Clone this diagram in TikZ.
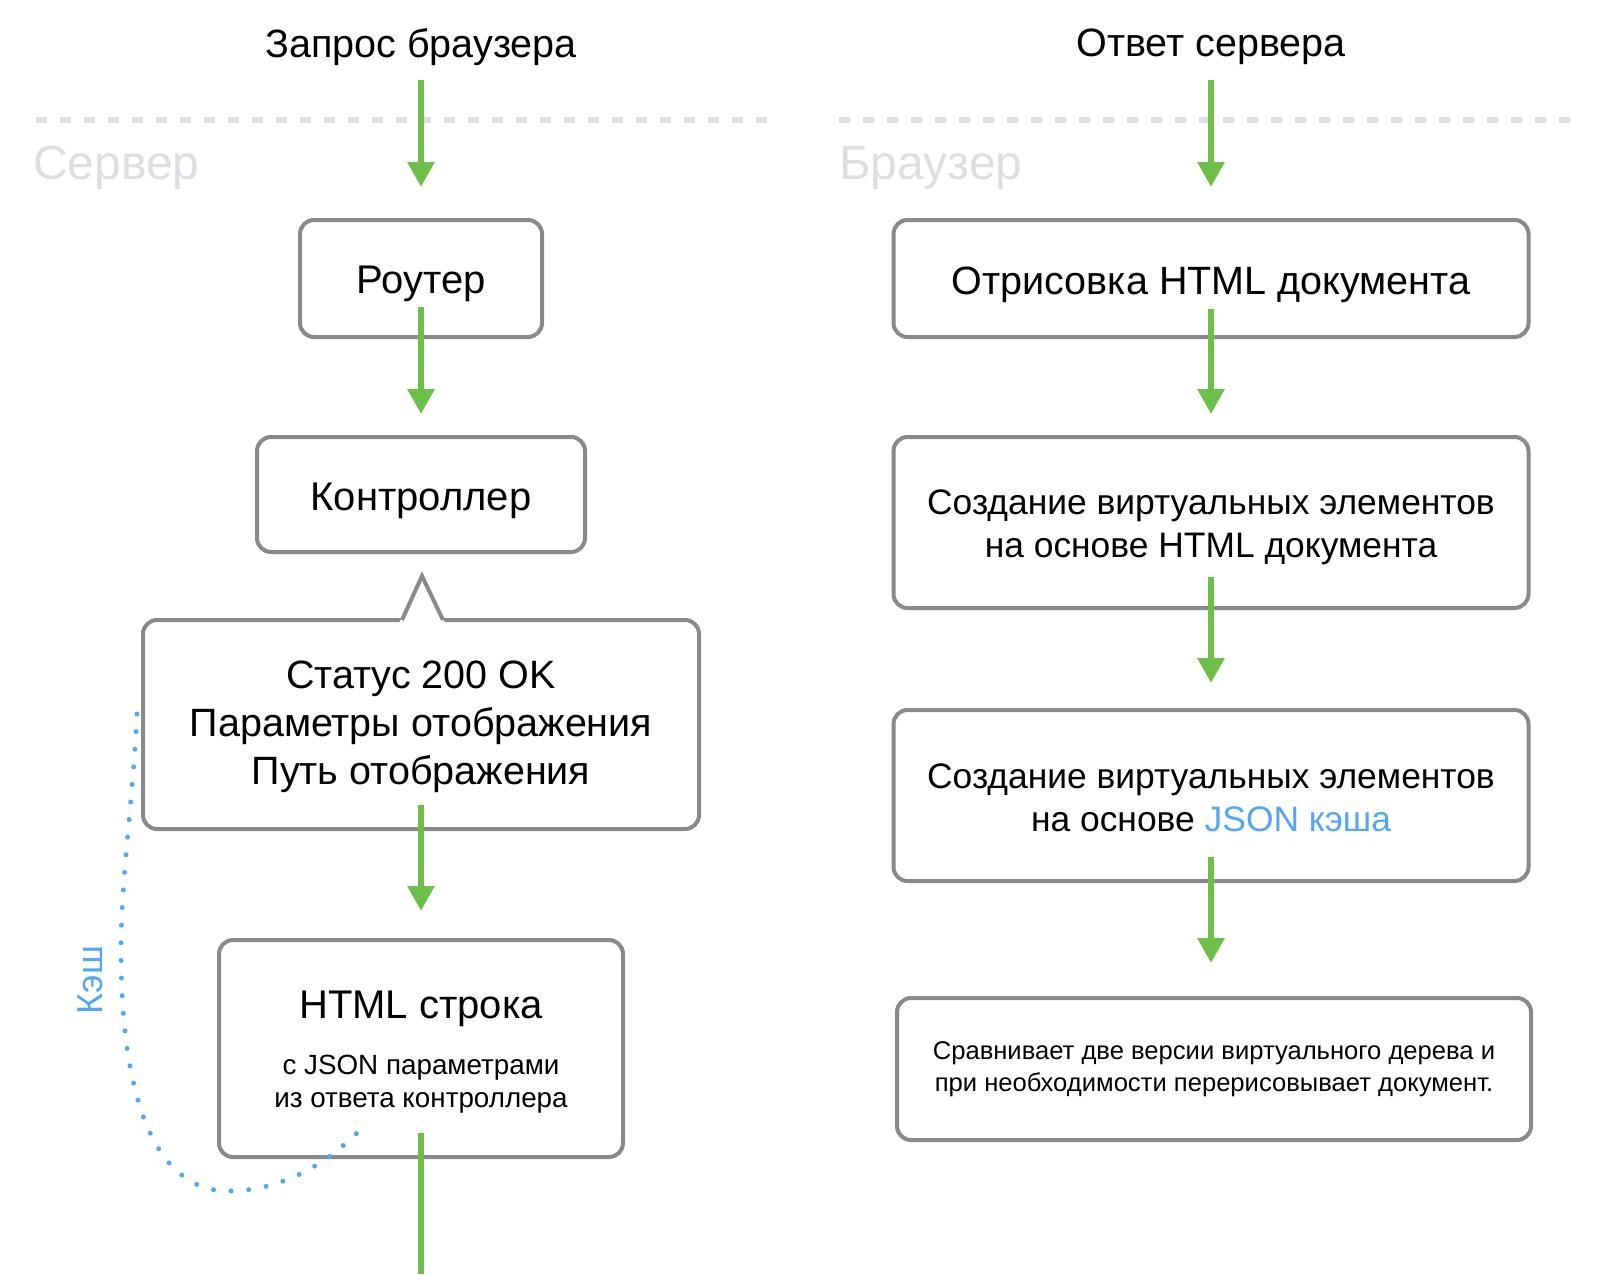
\documentclass[tikz,border=0pt]{standalone}
\usepackage{fontspec}
\setmainfont{Liberation Sans}
\usetikzlibrary{arrows.meta,calc}
\definecolor{boxgray}{RGB}{136,137,141}
\definecolor{flowgreen}{RGB}{108,192,72}
\definecolor{cacheblue}{RGB}{82,166,245}
\definecolor{zonegray}{RGB}{222,222,226}
\begin{document}
\begin{tikzpicture}[x=1pt,y=-1pt,
  box/.style={draw=boxgray, line width=4pt, rounded corners=14pt, fill=white, inner sep=0pt, outer sep=0pt},
  boxtext/.style={inner sep=0pt, align=center, text=black},
  flow/.style={draw=flowgreen, line width=6pt, -{Triangle[width=26pt,length=25pt]}},
  flowline/.style={draw=flowgreen, line width=6pt},
  zone/.style={draw=zonegray, line width=6pt, dash pattern=on 11pt off 13pt},
  zonelabel/.style={text=zonegray, font=\fontsize{48}{56}\selectfont, anchor=west, inner sep=0pt},
  title/.style={font=\fontsize{39.5}{46}\selectfont, inner sep=0pt},
  big/.style={boxtext, font=\fontsize{40}{48}\selectfont},
  callfont/.style={boxtext, font=\fontsize{39.5}{48}\selectfont},
  bigtwo/.style={boxtext, font=\fontsize{35.4}{43}\selectfont},
  small/.style={boxtext, font=\fontsize{27.8}{33}\selectfont},
  tiny/.style={boxtext, font=\fontsize{25.6}{32}\selectfont}
]
\useasboundingbox (0,0) rectangle (1613,1274);

% titles and zones
\node[title] (reqtitle) at (421,47) {Запрос браузера};
\node[title] (resptitle) at (1211,47) {Ответ сервера};
\draw[zone] (36,120) -- (767,120);
\draw[zone] (839,120) -- (1572,120);
\node[zonelabel] (server) at (33,168) {Сервер};
\node[zonelabel] (browser) at (839,168) {Браузер};

% left column
\node[box, minimum width=242pt, minimum height=117pt] (router) at (421,278.5) {};
\node[big] (routertext) at ([yshift=-5pt]router.center) {Роутер};
\node[box, minimum width=328pt, minimum height=115pt] (ctrl) at (421,494.5) {};
\node[big] (ctrltext) at ([yshift=-6pt]ctrl.center) {Контроллер};
\node[box, minimum width=556pt, minimum height=209pt] (callout) at (421,724.5) {};
\coordinate (apex) at ($(callout.north)+(1,-44)$);
\fill[white] ($(callout.north)+(-22,3)$) -- (apex) -- ($(callout.north)+(24,3)$) -- cycle;
\draw[boxgray, line width=4pt, line join=miter] ($(callout.north)+(-19,0)$) -- (apex) -- ($(callout.north)+(22,0)$);
\node[callfont] (callouttext) at ([yshift=-2pt]callout.center) {Статус 200 OK\\Параметры отображения\\Путь отображения};
\node[box, minimum width=404pt, minimum height=217pt] (html) at (421,1048.5) {};
\node[big] (htmltitle) at (421,1009) {HTML строка};
\node[small] (htmlsub) at (421,1084.5) {с JSON параметрами\\из ответа контроллера};

% right column
\node[box, minimum width=635pt, minimum height=117pt] (render) at (1211,278.5) {};
\node[callfont] (rendertext) at ([yshift=-6pt]render.center) {Отрисовка HTML документа};
\node[box, minimum width=635pt, minimum height=171pt] (vdomhtml) at (1211,522.5) {};
\node[bigtwo] (vdomhtmltext) at ([yshift=-5pt]vdomhtml.center) {Создание виртуальных элементов\\на основе HTML документа};
\node[box, minimum width=635pt, minimum height=171pt] (vdomjson) at (1211,795.5) {};
\node[bigtwo] (vdomjsontext) at ([yshift=-2pt]vdomjson.center) {Создание виртуальных элементов\\на основе \textcolor{cacheblue}{JSON кэша}};
\node[box, minimum width=634pt, minimum height=142pt] (diff) at (1214,1069) {};
\node[tiny] (difftext) at (diff.center) {Сравнивает две версии виртуального дерева и\\при необходимости перерисовывает документ.};

% flow arrows left
\coordinate (reqin) at (421,80);
\draw[flow] (reqin) -- ([yshift=33pt]router.north);
\draw[flow] ([yshift=30pt]router.south) -- ([yshift=23pt]ctrl.north);
\draw[flow] ([yshift=24pt]callout.south) -- ([yshift=29pt]html.north);
\coordinate (exitL) at (421,1274);
\draw[flowline] ([yshift=24pt]html.south) -- (exitL);

% flow arrows right
\coordinate (respin) at (1211,80);
\draw[flow] (respin) -- ([yshift=33pt]render.north);
\draw[flow] ([yshift=28pt]render.south) -- ([yshift=23pt]vdomhtml.north);
\draw[flow] ([yshift=31pt]vdomhtml.south) -- ([yshift=27pt]vdomjson.north);
\coordinate (diffin) at ([yshift=35pt]diff.north);
\draw[flow] ([yshift=24pt]vdomjson.south) -- (diffin -| vdomjson.south);

% cache loop
\coordinate (cacheS) at (137,714);
\coordinate (cacheE) at (357,1133);
\draw[cacheblue, line width=5pt, line cap=round, dash pattern=on 0pt off 17.645pt]
  (cacheS) .. controls (133,800) and (121,880) .. (121,950)
  .. controls (121,1110) and (160,1191) .. (228,1191)
  .. controls (285,1191) and (330,1160) .. (cacheE);
\node[text=cacheblue, rotate=90, font=\fontsize{36}{40}\selectfont, inner sep=0pt] (cachelabel) at (90,980) {Кэш};
\end{tikzpicture}
\end{document}
